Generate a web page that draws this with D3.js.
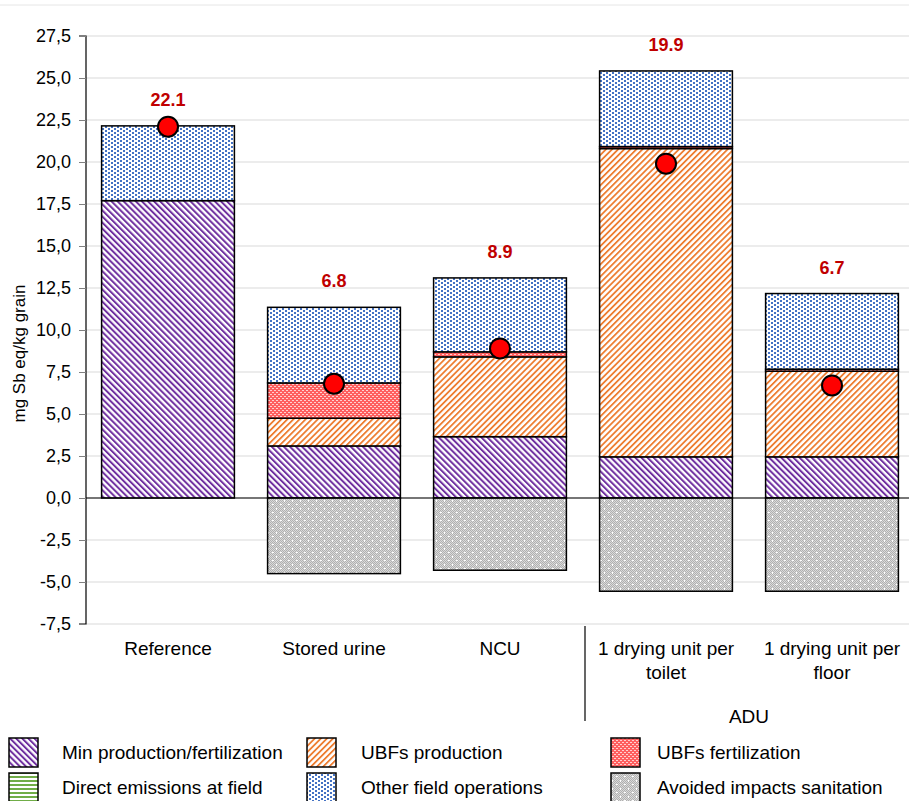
<!DOCTYPE html>
<html><head><meta charset="utf-8">
<script src="https://cdn.jsdelivr.net/npm/d3@7"></script>
<style>body{margin:0;background:#fff;}svg{display:block;font-family:"Liberation Sans",Arial,sans-serif;}</style>
</head><body>
<svg id="c" width="909" height="801"></svg>
<script>
const categories = ["Reference","Stored urine","NCU","1 drying unit per toilet","1 drying unit per floor"];
const xLabels = [["Reference"],["Stored urine"],["NCU"],["1 drying unit per","toilet"],["1 drying unit per","floor"]];
const minProd   = [17.7, 3.1, 3.65, 2.45, 2.45];
const ubfProd   = [0, 1.65, 4.75, 18.35, 5.1];
const ubfFert   = [0, 2.1, 0.3, 0.12, 0.12];
const direct    = [0, 0, 0, 0, 0];
const otherField= [4.45, 4.5, 4.4, 4.5, 4.5];
const avoided   = [0, -4.5, -4.3, -5.55, -5.55];
const totals    = [22.1, 6.8, 8.9, 19.9, 6.7];
const yTicks = [-7.5,-5,-2.5,0,2.5,5,7.5,10,12.5,15,17.5,20,22.5,25,27.5];
const seriesNames = ["Min production/fertilization","UBFs production","UBFs fertilization","Direct emissions at field","Other field operations","Avoided impacts sanitation"];
const groupLabel = "ADU";
const yTitle = "mg Sb eq/kg grain";

const svg = d3.select("#c");
const defs = svg.append("defs");
function stripe(id, color, angle, period, thick){
  const p = defs.append("pattern").attr("id",id).attr("patternUnits","userSpaceOnUse")
    .attr("width",period).attr("height",10).attr("patternTransform",`rotate(${angle})`);
  p.append("rect").attr("width",period).attr("height",10).attr("fill","#fff");
  p.append("rect").attr("width",thick).attr("height",10).attr("fill",color);
}
stripe("pPurple","#7030a0",-45,4.3,2);
stripe("pOrange","#ed7d31",45,4.3,1.8);
(function(){
  const p = defs.append("pattern").attr("id","pGreen").attr("patternUnits","userSpaceOnUse").attr("width",4).attr("height",4);
  p.append("rect").attr("width",4).attr("height",4).attr("fill","#fff");
  p.append("rect").attr("width",4).attr("height",2).attr("fill","#70ad47");
})();
(function(){
  const p = defs.append("pattern").attr("id","pBlue").attr("patternUnits","userSpaceOnUse").attr("width",6).attr("height",4);
  p.append("rect").attr("width",6).attr("height",4).attr("fill","#fff");
  p.append("rect").attr("x",0).attr("y",0).attr("width",2).attr("height",2).attr("fill","#4472c4");
  p.append("rect").attr("x",3).attr("y",2).attr("width",2).attr("height",2).attr("fill","#4472c4");
})();
(function(){
  const p = defs.append("pattern").attr("id","pRed").attr("patternUnits","userSpaceOnUse").attr("width",4).attr("height",4);
  p.append("rect").attr("width",4).attr("height",4).attr("fill","#ff5f5f");
  p.append("rect").attr("x",0).attr("y",0).attr("width",2).attr("height",1).attr("fill","#ffd0d0");
  p.append("rect").attr("x",2).attr("y",2).attr("width",2).attr("height",1).attr("fill","#ffd0d0");
})();
(function(){
  const c = defs.append("pattern").attr("id","pChk").attr("patternUnits","userSpaceOnUse").attr("width",2).attr("height",2);
  c.append("rect").attr("width",2).attr("height",2).attr("fill","#dadada");
  c.append("rect").attr("width",1).attr("height",1).attr("fill","#b0b0b0");
  c.append("rect").attr("x",1).attr("y",1).attr("width",1).attr("height",1).attr("fill","#b0b0b0");
  const p = defs.append("pattern").attr("id","pGray").attr("patternUnits","userSpaceOnUse").attr("width",8).attr("height",8);
  p.append("rect").attr("width",8).attr("height",8).attr("fill","url(#pChk)");
  p.append("rect").attr("x",0).attr("y",0).attr("width",2).attr("height",1).attr("fill","#fff");
  p.append("rect").attr("x",4).attr("y",4).attr("width",1).attr("height",2).attr("fill","#fff");
})();
const fills = ["url(#pPurple)","url(#pOrange)","url(#pRed)","url(#pGreen)","url(#pBlue)","url(#pGray)"];

const plotL = 86, plotR = 909;
const x = d3.scaleBand().domain(categories).range([85,915]).paddingInner(0.2).paddingOuter(0.1);
const y = d3.scaleLinear().domain([-7.5,27.5]).range([624,36]);

// top border
svg.append("line").attr("x1",0).attr("x2",909).attr("y1",5).attr("y2",5).attr("stroke","#e6e6e6");

// gridlines
svg.append("g").selectAll("line").data(yTicks).join("line")
  .attr("x1",plotL).attr("x2",plotR).attr("y1",d=>y(d)).attr("y2",d=>y(d))
  .attr("stroke","#d9d9d9").attr("stroke-width",1);

// y axis
const yAxis = d3.axisLeft(y).tickValues(yTicks).tickSize(7).tickPadding(8)
  .tickFormat(d=>d3.format(".1f")(d).replace(".",",").replace("\u2212","-"));
const ga = svg.append("g").attr("transform",`translate(${plotL},0)`).call(yAxis);
ga.select(".domain").attr("stroke","#000").attr("stroke-width",1.2).attr("d",`M-7,${y(27.5)}H0V${y(-7.5)}H-7`);
ga.selectAll(".tick line").attr("stroke","#808080");
ga.selectAll(".tick text").attr("font-size",18).attr("fill","#000").attr("font-family","Liberation Sans, Arial, sans-serif");

svg.append("text").attr("transform",`translate(25,${y(8.6)}) rotate(-90)`)
  .attr("text-anchor","middle").attr("font-size",17).text(yTitle);

// bars
const pos = [minProd,ubfProd,ubfFert,direct,otherField];
const bars = svg.append("g");
categories.forEach((c,i)=>{
  let base = 0;
  pos.forEach((arr,k)=>{
    const v = arr[i];
    if(v>0){
      bars.append("rect").attr("x",x(c)).attr("width",x.bandwidth())
        .attr("y",y(base+v)).attr("height",y(base)-y(base+v))
        .attr("fill",fills[k]).attr("stroke","#000").attr("stroke-width",1.5);
      base += v;
    }
  });
  if(avoided[i]<0){
    bars.append("rect").attr("x",x(c)).attr("width",x.bandwidth())
      .attr("y",y(0)).attr("height",y(avoided[i])-y(0))
      .attr("fill",fills[5]).attr("stroke","#000").attr("stroke-width",1.5);
  }
});

// zero line
svg.append("line").attr("x1",plotL).attr("x2",plotR).attr("y1",y(0)).attr("y2",y(0)).attr("stroke","#000").attr("stroke-width",1.2);

// totals
categories.forEach((c,i)=>{
  const top = minProd[i]+ubfProd[i]+ubfFert[i]+direct[i]+otherField[i];
  const cx = x(c)+x.bandwidth()/2;
  svg.append("circle").attr("cx",cx).attr("cy",y(totals[i])).attr("r",10)
    .attr("fill","#ff0000").attr("stroke","#000").attr("stroke-width",2);
  svg.append("text").attr("x",cx).attr("y",y(top)-20).attr("text-anchor","middle")
    .attr("font-size",18).attr("font-weight","bold").attr("fill","#c00000").text(totals[i].toFixed(1));
});

// x labels
categories.forEach((c,i)=>{
  const cx = x(c)+x.bandwidth()/2;
  xLabels[i].forEach((ln,j)=>{
    svg.append("text").attr("x",cx).attr("y",655+j*24).attr("text-anchor","middle")
      .attr("font-size",19).text(ln);
  });
});
const sepX = x(categories[3]) - (x.step()-x.bandwidth())/2 + 2;
svg.append("line").attr("x1",sepX).attr("x2",sepX).attr("y1",626).attr("y2",721).attr("stroke","#000").attr("stroke-width",1.2);
svg.append("text").attr("x",(x(categories[3])+x(categories[4])+x.bandwidth())/2).attr("y",723)
  .attr("text-anchor","middle").attr("font-size",19).text(groupLabel);

// legend
const legCols = [9, 307, 611];
const legText = [62, 361, 657];
const legRows = [738, 773];
seriesNames.forEach((n,k)=>{
  const col = k%3, row = Math.floor(k/3);
  svg.append("rect").attr("x",legCols[col]).attr("y",legRows[row]).attr("width",29).attr("height",29)
    .attr("fill",fills[k]).attr("stroke","#000").attr("stroke-width",1.5);
  svg.append("text").attr("x",legText[col]).attr("y",legRows[row]+21).attr("font-size",19).text(n);
});
</script>
</body></html>
